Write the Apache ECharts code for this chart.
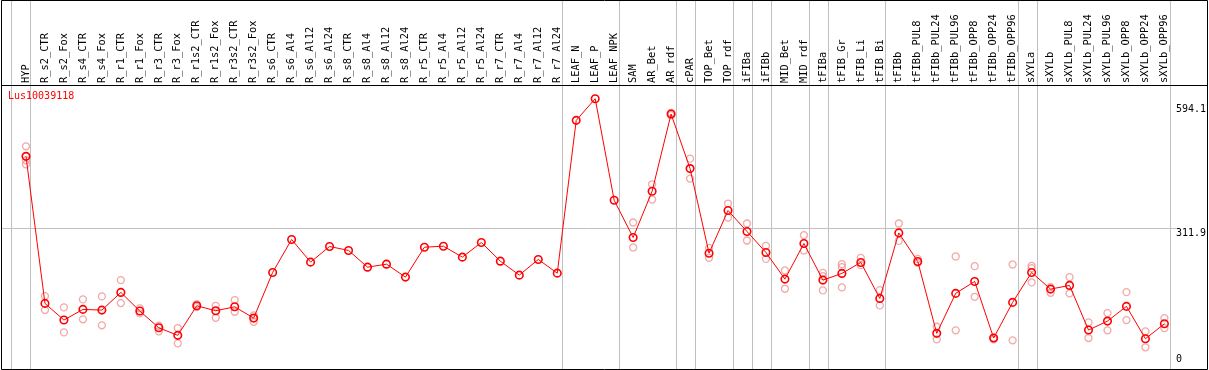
<!DOCTYPE html>
<html>
<head>
<meta charset="utf-8">
<script src="https://cdn.jsdelivr.net/npm/echarts@6/dist/echarts.min.js"></script>
<style>
html,body{margin:0;padding:0;background:#fff;}
#chart{width:1209px;height:370px;}
</style>
</head>
<body>
<div id="chart"></div>
<script>
const geneName = 'Lus10039118';

const categories = ['HYP','R_s2_CTR','R_s2_Fox','R_s4_CTR','R_s4_Fox','R_r1_CTR','R_r1_Fox','R_r3_CTR','R_r3_Fox',
  'R_r1s2_CTR','R_r1s2_Fox','R_r3s2_CTR','R_r3s2_Fox','R_s6_CTR','R_s6_Al4','R_s6_Al12','R_s6_Al24',
  'R_s8_CTR','R_s8_Al4','R_s8_Al12','R_s8_Al24','R_r5_CTR','R_r5_Al4','R_r5_Al12','R_r5_Al24',
  'R_r7_CTR','R_r7_Al4','R_r7_Al12','R_r7_Al24','LEAF_N','LEAF_P','LEAF_NPK','SAM','AR_Bet','AR_rdf',
  'cPAR','TOP_Bet','TOP_rdf','iFIBa','iFIBb','MID_Bet','MID_rdf','tFIBa','tFIB_Gr','tFIB_Li','tFIB_Bi',
  'tFIBb','tFIBb_PUL8','tFIBb_PUL24','tFIBb_PUL96','tFIBb_OPP8','tFIBb_OPP24','tFIBb_OPP96',
  'sXYLa','sXYLb','sXYLb_PUL8','sXYLb_PUL24','sXYLb_PUL96','sXYLb_OPP8','sXYLb_OPP24','sXYLb_OPP96'];

const means = [475.6,142.0,104.2,128.4,126.8,166.9,124.6,86.7,69.5,
  136.6,125.3,134.3,108.7,212.2,287.0,235.6,271.1,
  262.1,224.2,231.0,201.6,269.5,271.8,246.9,280.2,
  237.8,206.1,241.7,210.6,557.2,606.3,376.0,291.5,396.4,571.5,
  447.8,255.9,352.7,305.1,257.5,197.1,277.9,194.8,210.0,234.9,153.3,
  301.9,237.1,74.1,164.7,191.8,63.4,144.3,
  212.2,174.4,182.8,81.5,101.9,135.2,61.8,95.8];

const replicates = [
  [498.3,466.6,457.5],[158.5,126.8],[133.0,76.3],[151.1,105.8],[157.9,92.2],[194.8,142.7],[130.7,119.4],[91.3,78.6],[86.1,51.4],
  [140.4,133.6],[136.6,109.4],[149.5,123.0],[114.8,100.3],[],[],[],[],
  [],[],[],[],[],[],[],[],
  [],[],[],[],[],[],[],[325.5,268.9],[412.2,377.6],[574.0,569.0],
  [470.4,425.1],[267.9,245.3],[368.5,336.8],[323.2,284.7],[272.5,243.0],[216.8,175.1],[296.7,262.1],[211.3,203.8,171.5],[231.0,224.2,178.3],[245.3,228.8],[172.1,137.5],
  [323.2,283.8],[243.0,234.0],[89.0,60.5],[248.5,80.9],[226.5,157.0],[64.1,60.5],[230.3,58.2],
  [227.2,222.0,189.6],[178.9,166.0],[201.6,164.7],[99.0,63.4],[120.0,80.9],[167.6,104.2],[78.6,42.4],[108.7,86.1]];

const yTickLabels = [311.9, 594.1];
const yZeroLabel = [0];
const refLineValue = 311.9;
const groupEnds = ['HYP','R_r7_Al24','LEAF_NPK','AR_rdf','cPAR','TOP_rdf','iFIBa','iFIBb','MID_rdf',
  'tFIBa','tFIB_Bi','tFIBb_OPP96','sXYLa','sXYLb_OPP96'];

// ---- layout / style ----
const MONO = '"DejaVu Sans Mono", "Liberation Mono", monospace';
const Y_MIN = -6.81, Y_MAX = 637.41;
const SEP_OFFSET = 4.5 / 19;

const repData = [];
replicates.forEach((arr, i) => arr.forEach(v => repData.push([i, v])));
const sepData = [[-1 + SEP_OFFSET, 0]].concat(groupEnds.map(n => [categories.indexOf(n) + SEP_OFFSET, 0]));

const chart = echarts.init(document.getElementById('chart'), null, {renderer: 'canvas'});
chart.setOption({
  backgroundColor: '#fff',
  animation: false,
  title: {
    text: geneName, left: 8, top: 91, padding: 0,
    textStyle: {color: '#ff0000', fontSize: 10, fontWeight: 'normal', fontFamily: MONO}
  },
  grid: [
    {left: 16.5, right: 33.5, top: 85, bottom: 1},
    {left: 16.5, right: 33.5, top: 0, bottom: 1},
    {left: 1, right: 32.5, top: 85, bottom: 1}
  ],
  xAxis: [
    {type: 'category', gridIndex: 0, position: 'top', data: categories, boundaryGap: true,
     axisLine: {show: false}, axisTick: {show: false}, splitLine: {show: false},
     axisLabel: {interval: 0, rotate: 90, margin: 2, fontSize: 10.4, fontFamily: MONO, color: '#000'}},
    {type: 'value', gridIndex: 1, min: -0.5, max: categories.length - 0.5, show: false},
    {type: 'value', gridIndex: 2, min: 0, max: 1, show: false}
  ],
  yAxis: [
    {type: 'value', gridIndex: 0, position: 'right', min: Y_MIN, max: Y_MAX,
     axisLine: {show: false}, axisTick: {show: false}, splitLine: {show: false},
     axisLabel: {customValues: yTickLabels, verticalAlign: 'top', margin: 2, fontSize: 10, fontFamily: MONO, color: '#000'}},
    {type: 'value', gridIndex: 0, position: 'right', min: Y_MIN, max: Y_MAX,
     axisLine: {show: false}, axisTick: {show: false}, splitLine: {show: false},
     axisLabel: {customValues: yZeroLabel, verticalAlign: 'bottom', margin: 2, fontSize: 10, fontFamily: MONO, color: '#000', padding: [0, 0, 2, 0]}},
    {type: 'value', gridIndex: 1, min: 0, max: 1, show: false},
    {type: 'value', gridIndex: 2, min: Y_MIN, max: Y_MAX, show: false}
  ],
  series: [
    {
      type: 'custom', xAxisIndex: 1, yAxisIndex: 2, silent: true, z: 1,
      data: sepData,
      renderItem: function (params, api) {
        const x = api.coord([api.value(0), 0])[0];
        const cs = params.coordSys;
        return {type: 'line', shape: {x1: x, y1: cs.y, x2: x, y2: cs.y + cs.height},
                style: {stroke: '#c0c0c0', lineWidth: 1}};
      }
    },
    {
      type: 'custom', xAxisIndex: 2, yAxisIndex: 3, silent: true, z: 1,
      data: [[0, refLineValue]],
      renderItem: function (params, api) {
        const y = api.coord([0, api.value(1)])[1];
        const cs = params.coordSys;
        return {type: 'line', shape: {x1: cs.x, y1: y, x2: cs.x + cs.width, y2: y},
                style: {stroke: '#c0c0c0', lineWidth: 1}};
      }
    },
    {
      type: 'scatter', xAxisIndex: 0, yAxisIndex: 0, z: 2, silent: true,
      data: repData, symbol: 'circle', symbolSize: 7,
      itemStyle: {color: 'rgba(0,0,0,0)', borderColor: '#ee9494', borderWidth: 1.3}
    },
    {
      type: 'line', xAxisIndex: 0, yAxisIndex: 0, z: 3, silent: true,
      data: means, symbol: 'circle', symbolSize: 7.5, showAllSymbol: true,
      lineStyle: {color: '#ff0000', width: 1},
      itemStyle: {color: 'rgba(0,0,0,0)', borderColor: '#ff0000', borderWidth: 1.6}
    }
  ],
  graphic: [
    {type: 'rect', z: 100, silent: true, shape: {x: 1.5, y: 0.5, width: 1206, height: 369},
     style: {fill: null, stroke: '#000', lineWidth: 1}},
    {type: 'line', z: 100, silent: true, shape: {x1: 1, y1: 85.5, x2: 1207, y2: 85.5},
     style: {stroke: '#000', lineWidth: 1}}
  ]
});
</script>
</body>
</html>
